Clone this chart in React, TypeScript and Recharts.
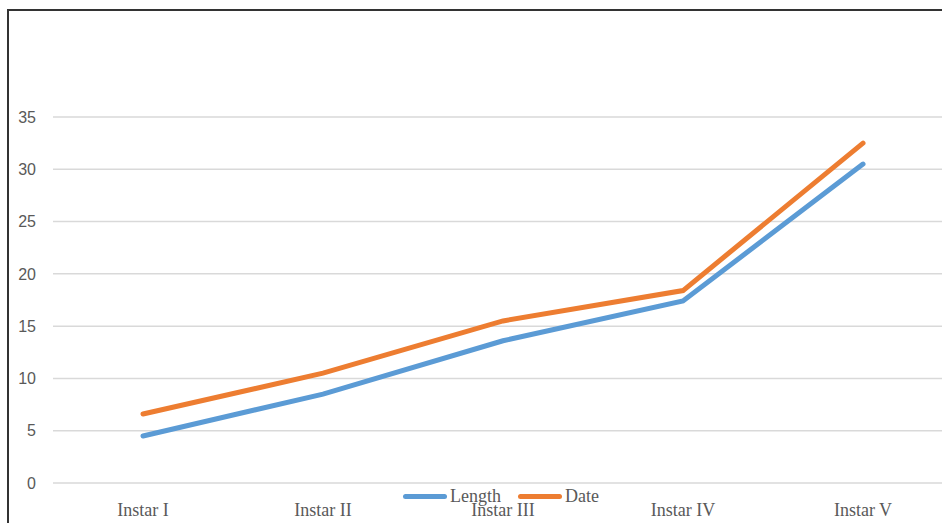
import { LineChart, Line, XAxis, YAxis, CartesianGrid } from 'recharts'

const instars = ['Instar I', 'Instar II', 'Instar III', 'Instar IV', 'Instar V']
const lengthValues = [4.5, 8.5, 13.6, 17.4, 30.5]
const dateValues = [6.6, 10.5, 15.5, 18.4, 32.5]
const yTicks = [0, 5, 10, 15, 20, 25, 30, 35]

const data = instars.map((name, i) => ({
  name,
  length: lengthValues[i],
  date: dateValues[i],
}))

const labelFont = '"Liberation Serif", "Times New Roman", serif'

const legendItems = [
  { label: 'Length', color: '#5B9BD5' },
  { label: 'Date', color: '#ED7D31' },
]

function ChartLegend() {
  return (
    <div style={{ display: 'flex', alignItems: 'center', gap: 17 }}>
      {legendItems.map((item) => (
        <div key={item.label} style={{ display: 'flex', alignItems: 'center' }}>
          <span
            style={{
              width: 44,
              height: 5,
              borderRadius: 3,
              backgroundColor: item.color,
              marginRight: 3,
            }}
          />
          <span style={{ fontFamily: labelFont, fontSize: 18, color: '#595959', lineHeight: '18px' }}>
            {item.label}
          </span>
        </div>
      ))}
    </div>
  )
}

export default function App() {
  return (
    <div
      style={{
        position: 'fixed',
        left: 0,
        top: 0,
        width: 942,
        height: 523,
        overflow: 'hidden',
        background: '#fff',
      }}
    >
      <div
        style={{
          position: 'absolute',
          left: 7,
          top: 9,
          width: 1000,
          height: 600,
          borderLeft: '2px solid #333',
          borderTop: '2px solid #333',
        }}
      />
      <div style={{ position: 'absolute', left: 0, top: 0 }}>
        <LineChart
          width={960}
          height={523}
          data={data}
          margin={{ top: 117, right: 7, bottom: 0, left: 0 }}
        >
          <CartesianGrid stroke="#d9d9d9" strokeWidth={1.5} vertical={false} />
          <XAxis
            dataKey="name"
            axisLine={false}
            tickLine={false}
            height={40}
            tickMargin={14}
            padding={{ left: 90, right: 90 }}
            tick={{ fill: '#595959', fontSize: 18, fontFamily: labelFont }}
          />
          <YAxis
            domain={[0, 35]}
            ticks={yTicks}
            width={53}
            axisLine={false}
            tickLine={false}
            tickMargin={11}
            tick={{ fill: '#595959', fontSize: 16, fontFamily: '"Liberation Sans", Arial, sans-serif' }}
          />
          <Line
            type="linear"
            dataKey="length"
            stroke="#5B9BD5"
            strokeWidth={5}
            strokeLinecap="round"
            dot={false}
            isAnimationActive={false}
          />
          <Line
            type="linear"
            dataKey="date"
            stroke="#ED7D31"
            strokeWidth={5}
            strokeLinecap="round"
            dot={false}
            isAnimationActive={false}
          />
        </LineChart>
      </div>
      <div style={{ position: 'absolute', left: 403, top: 487 }}>
        <ChartLegend />
      </div>
    </div>
  )
}
